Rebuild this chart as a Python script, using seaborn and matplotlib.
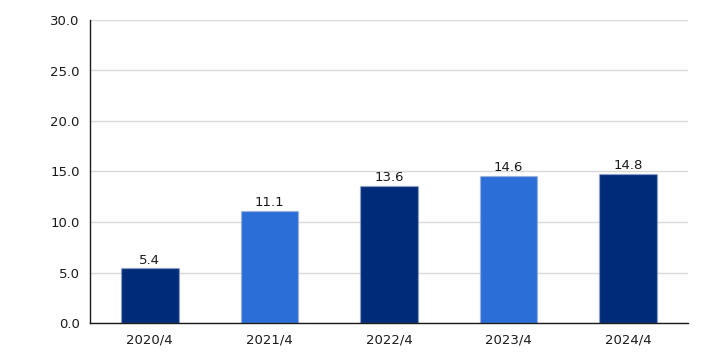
import pandas as pd
import seaborn as sns
import matplotlib.pyplot as plt

periods = ["2020/4", "2021/4", "2022/4", "2023/4", "2024/4"]
values = [5.4, 11.1, 13.6, 14.6, 14.8]
bar_colors = ["#002B78", "#2B6ED7", "#002B78", "#2B6ED7", "#002B78"]
y_ticks = [0, 5, 10, 15, 20, 25, 30]


def create_bar_chart(df, output):
    sns.set_style("white")
    plt.rcParams['font.family'] = ['DejaVu Sans']
    fig = plt.figure(figsize=(7.06, 3.53), dpi=100)
    ax = fig.add_axes([90 / 706, 30 / 353, 598 / 706, 303 / 353])
    sns.barplot(data=df, x="period", y="value", hue="period", palette=bar_colors,
                width=0.48, legend=False, ax=ax, saturation=1,
                edgecolor=(0.62, 0.68, 0.82, 0.45), linewidth=1.0)
    ax.set_ylim(0, 30)
    ax.set_xlim(-0.5, 4.5)
    ax.set_yticks(y_ticks)
    ax.set_yticklabels(["{:.1f}".format(t) for t in y_ticks], fontsize=9.5, color="#1a1a1a")
    ax.tick_params(axis="x", labelsize=9.5, colors="#1a1a1a", length=4, width=1)
    ax.tick_params(axis="y", length=4, width=1, colors="#1a1a1a")
    ax.set_axisbelow(True)
    ax.yaxis.grid(color="#d9d9d9", linestyle="solid", linewidth=1)
    for side in ["top", "right"]:
        ax.spines[side].set_visible(False)
    for side in ["left", "bottom"]:
        ax.spines[side].set_color("#1a1a1a")
        ax.spines[side].set_linewidth(1)
    ax.set_xlabel("")
    ax.set_ylabel("")
    for i, v in enumerate(values):
        ax.text(i, v + 0.15, "{:.1f}".format(v), ha="center", va="bottom", fontsize=9.5, color="#1a1a1a")
    fig.savefig(output, dpi=100)
    plt.close()


def main():
    df = pd.DataFrame({"period": periods, "value": values})
    create_bar_chart(df, "out.png")


if __name__ == '__main__':
    main()
